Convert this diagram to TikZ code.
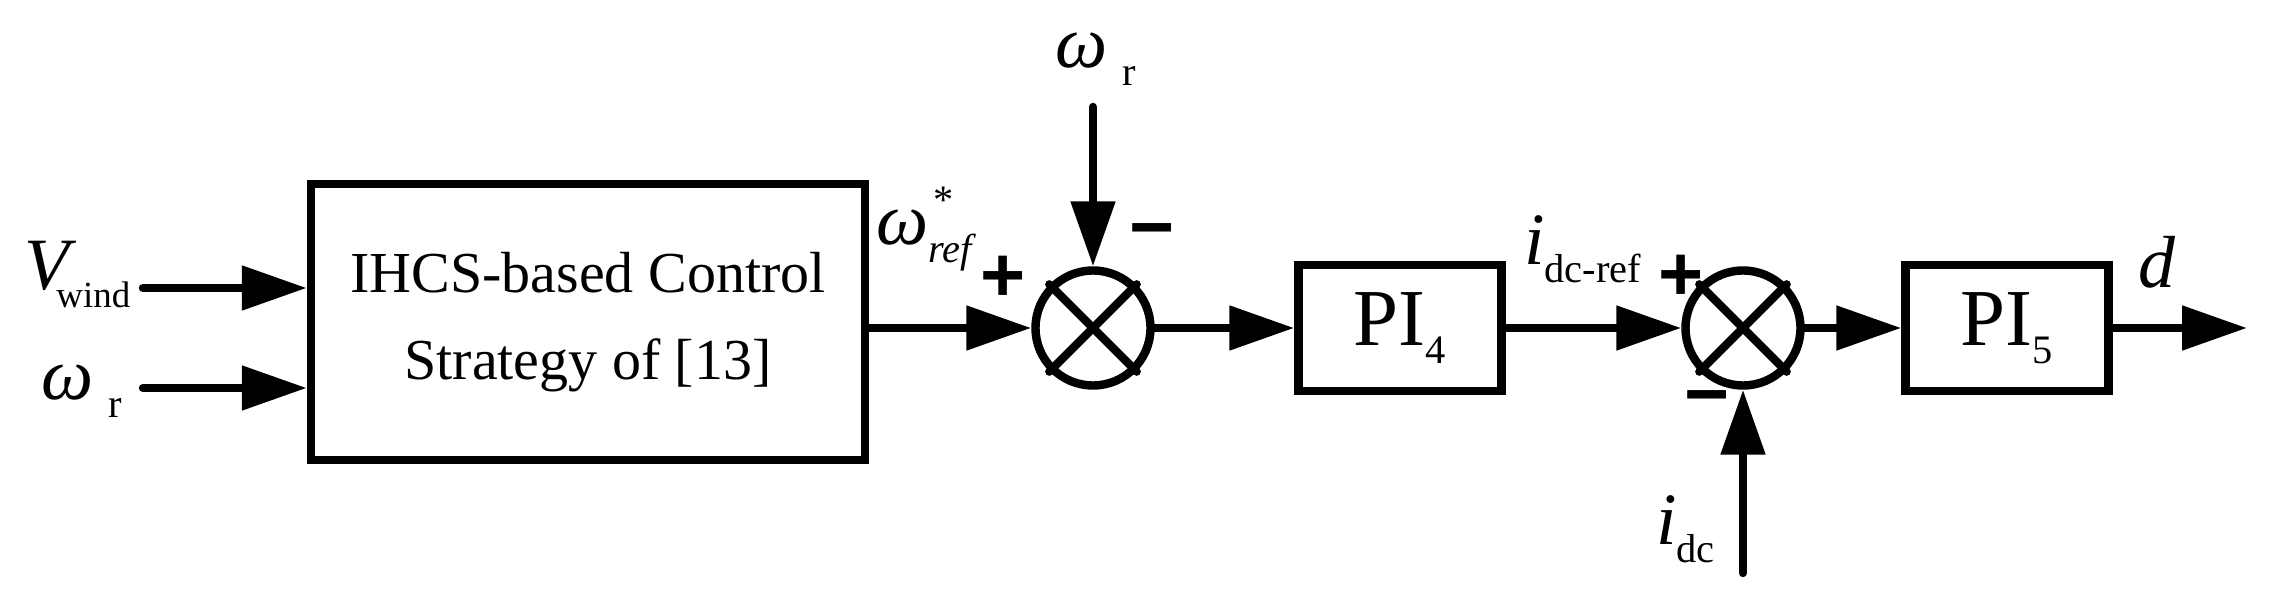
\documentclass[tikz,border=0pt]{standalone}
\usepackage{fontspec}
\setmainfont{Liberation Serif}
\newfontfamily\signfont{Liberation Sans}
\usetikzlibrary{arrows.meta}

\newcommand{\lowsub}[1]{\raisebox{-0.18cm}{\fontsize{11.5}{12}\selectfont #1}}

\tikzset{
  blockbox/.style={draw, rectangle, inner sep=0pt, minimum width=2.03cm, minimum height=1.26cm, font=\fontsize{23}{26}\selectfont},
  sumjunction/.style={draw, circle, inner sep=0pt, minimum size=1.15cm},
  siglabel/.style={anchor=base west, inner sep=0pt, font=\fontsize{21}{24}\selectfont},
  signlabel/.style={inner sep=0pt, font=\signfont\bfseries\fontsize{22}{24}\selectfont},
}

\begin{document}
\begin{tikzpicture}[>={Triangle[length=6.5mm,width=4.3mm]}, line width=2.4pt, line cap=round]
    \useasboundingbox (0,0) rectangle (22.71,6.09);

    % Blocks
    \node[blockbox, minimum width=5.54cm, minimum height=2.76cm, align=center, font=\fontsize{16.5}{24.7}\selectfont] (ihcs) at (5.88,2.87) {IHCS-based Control\\Strategy of [13]};
    \node[sumjunction] (sum1) at (10.93,2.81) {};
    \node[blockbox] (pi4) at (14.00,2.81) {PI\lowsub{4}};
    \node[sumjunction] (sum2) at (17.43,2.81) {};
    \node[blockbox] (pi5) at (20.07,2.81) {PI\lowsub{5}};
    \draw (sum1.north west) -- (sum1.south east) (sum1.north east) -- (sum1.south west);
    \draw (sum2.north west) -- (sum2.south east) (sum2.north east) -- (sum2.south west);

    % Signals
    \coordinate (vin) at (1.43,3.21);
    \coordinate (win) at (1.43,2.21);
    \coordinate (wfb) at (10.93,5.02);
    \coordinate (idcin) at (17.43,0.36);
    \coordinate (dout) at (22.47,2.81);
    \draw[->] (vin) -- (vin -| ihcs.west);
    \draw[->] (win) -- (win -| ihcs.west);
    \draw[->] (ihcs.east |- sum1) -- (sum1);
    \draw[->] (wfb) -- (sum1);
    \draw[->] (sum1) -- (pi4);
    \draw[->] (pi4) -- (sum2);
    \draw[->] (idcin) -- (sum2);
    \draw[->] (sum2) -- (pi5);
    \draw[->] (pi5) -- (dout);

    % Labels
    \node[siglabel] (vwind) at (0.20,3.19) {\textit{V}\kern-0.2cm\raisebox{-0.18cm}{\fontsize{10.5}{12}\selectfont wind}};
    \node[siglabel] (wr) at (0.37,2.09) {\textit{ω}\kern0.15cm\lowsub{r}};
    \node[siglabel] (wref) at (8.72,3.64) {\textit{ω}\rlap{\kern0.05cm\raisebox{0.31cm}{\fontsize{11.5}{12}\selectfont *}}\lowsub{\itshape ref}};
    \node[siglabel] (wrtop) at (10.51,5.41) {\textit{ω}\kern0.15cm\lowsub{r}};
    \node[siglabel] (idcref) at (15.20,3.44) {\textit{i}\lowsub{dc-ref}};
    \node[siglabel] (idc) at (16.52,0.64) {\textit{i}\lowsub{dc}};
    \node[siglabel] (dlbl) at (21.34,3.21) {\textit{d}};

    % Signs
    \node[signlabel] (p1) at (10.03,3.30) {+};
    \node[signlabel] (m1) at (11.52,3.70) {−};
    \node[signlabel] (p2) at (16.81,3.31) {+};
    \node[signlabel] (m2) at (17.07,2.03) {−};
\end{tikzpicture}
\end{document}
